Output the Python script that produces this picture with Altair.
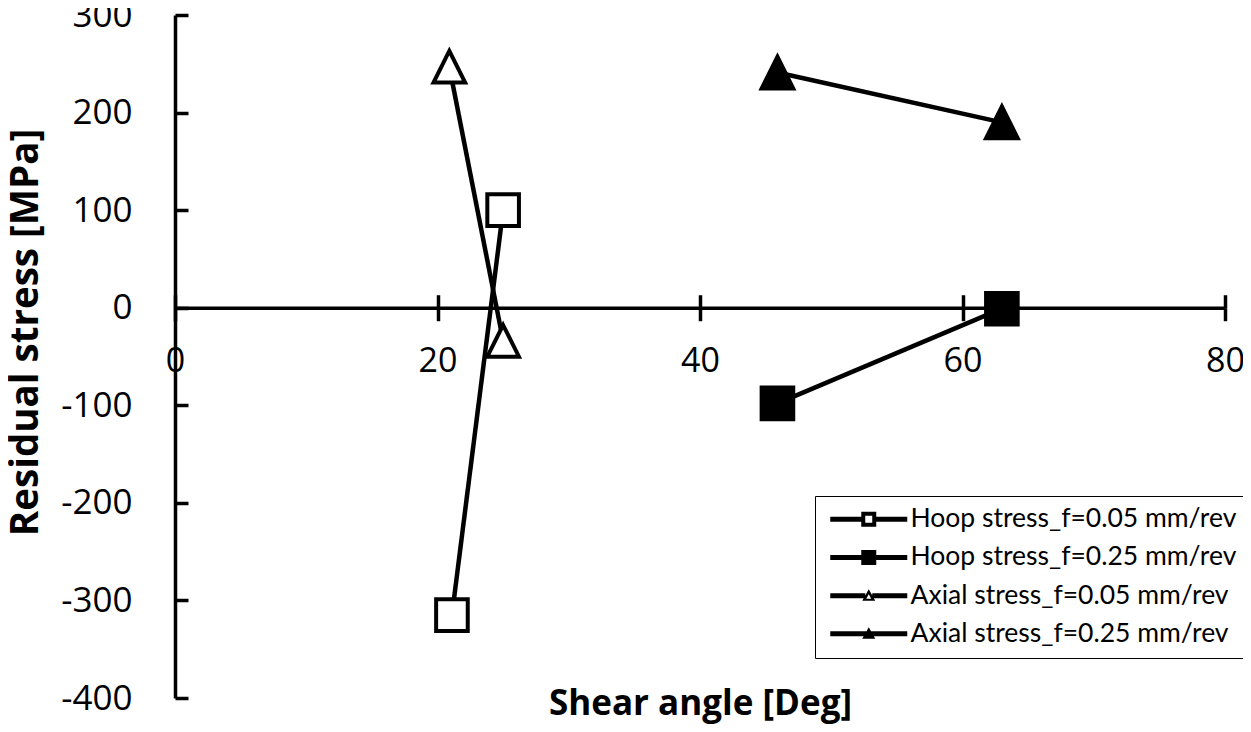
import altair as alt
import pandas as pd

# ---------------- data ----------------
series_names = [
    "Hoop stress_f=0.05 mm/rev",
    "Hoop stress_f=0.25 mm/rev",
    "Axial stress_f=0.05 mm/rev",
    "Axial stress_f=0.25 mm/rev",
]
hoop_005_x = [21.1, 25.0]
hoop_005_y = [-315, 100]
hoop_025_x = [45.9, 63.0]
hoop_025_y = [-98, -1]
axial_005_x = [20.9, 25.0]
axial_005_y = [247, -34]
axial_025_x = [45.9, 63.0]
axial_025_y = [241, 190]

x_ticks = [0, 20, 40, 60, 80]
y_ticks = [-400, -300, -200, -100, 0, 100, 200, 300]

rows = []
for name, xs, ys in zip(
    series_names,
    [hoop_005_x, hoop_025_x, axial_005_x, axial_025_x],
    [hoop_005_y, hoop_025_y, axial_005_y, axial_025_y],
):
    for xv, yv in zip(xs, ys):
        rows.append({"series": name, "angle": xv, "stress": yv})
df = pd.DataFrame(rows)

# ---------------- layout ----------------
W, H = 1050, 683
LABEL_FONT = "Open Sans"
TITLE_FONT = "Open Sans"
LEGEND_FONT = "Lato"
zero_from_bottom = H * 400 / 700
zero_from_top = H * 300 / 700

x_scale = alt.Scale(domain=[0, 80], nice=False, zero=False)
y_scale = alt.Scale(domain=[-400, 300], nice=False, zero=False)

main_x_axis = alt.Axis(
    orient="bottom", offset=-zero_from_bottom, values=x_ticks,
    labelExpr="datum.value + ''", labelFont=LABEL_FONT, labelFontSize=34,
    labelColor="black", labelPadding=24, labelFlush=False, labelOverlap=False,
    tickSize=13, tickWidth=3.5, tickColor="black",
    domainColor="black", domainWidth=3.5, grid=False,
    title="Shear angle [Deg]", titleFont=TITLE_FONT, titleFontSize=35,
    titleFontWeight="bold", titleColor="black", titleBaseline="alphabetic",
    titleY=407,
)
main_y_axis = alt.Axis(
    orient="left", values=y_ticks, labelExpr="datum.value + ''",
    labelFont=LABEL_FONT, labelFontSize=35, labelColor="black", labelPadding=43,
    labelFlush=False, labelOverlap=False,
    ticks=False, tickSize=0, domainColor="black", domainWidth=3.5, grid=False,
    title="Residual stress [MPa]", titleFont=TITLE_FONT, titleFontSize=38.5,
    titleFontWeight="bold", titleColor="black", titleBaseline="alphabetic",
    titleAngle=270, titleX=-138, titleY=317, titleAlign="center",
)
tick_x_axis = alt.Axis(
    orient="top", offset=-zero_from_top, values=x_ticks, labels=False,
    domain=False, tickSize=13, tickWidth=3.5, tickColor="black",
    grid=False, title=None,
)
tick_y_axis = alt.Axis(
    orient="right", offset=-W, values=y_ticks, labels=False,
    domain=False, tickSize=13, tickWidth=3.5, tickColor="black",
    grid=False, title=None,
)

base = alt.Chart(df)

lines = base.mark_line(color="black", strokeWidth=4.5).encode(
    x=alt.X("angle:Q", scale=x_scale, axis=main_x_axis),
    y=alt.Y("stress:Q", scale=y_scale, axis=main_y_axis),
    detail="series:N",
)

marker_shapes = ["square", "square", "M0,-1L1,1L-1,1Z", "M0,-1L1,1L-1,1Z"]
marker_fills = ["white", "black", "white", "black"]

points = base.mark_point(
    filled=False, stroke="black", strokeWidth=4, size=1000, opacity=1
).encode(
    x=alt.X("angle:Q", scale=x_scale, axis=None),
    y=alt.Y("stress:Q", scale=y_scale, axis=None),
    shape=alt.Shape("series:N", scale=alt.Scale(domain=series_names, range=marker_shapes), legend=None),
    fill=alt.Fill("series:N", scale=alt.Scale(domain=series_names, range=marker_fills), legend=None),
)

# ---------------- legend symbols: line + marker, built as filled paths ----------------
SYM = 26.0           # legend symbol box (px); path units are scaled by SYM/2
R = SYM / 2


def poly(points_px):
    return "M" + "L".join(f"{x / R:.3f},{y / R:.3f}" for x, y in points_px) + "Z"


def rect(x0, y0, x1, y1, ccw=False):
    pts = [(x0, y0), (x1, y0), (x1, y1), (x0, y1)]
    if ccw:
        pts = pts[::-1]
    return poly(pts)


LX0, LX1, CX, HT = -8.0, 69.0, 30.5, 2.5   # line start/end, marker centre, half line width
full_line = rect(LX0, -HT, LX1, HT)

sym_open_sq = (rect(LX0, -HT, CX - 7.5, HT) + rect(CX + 7.5, -HT, LX1, HT)
               + rect(CX - 7.5, -7.5, CX + 7.5, 7.5) + rect(CX - 3.5, -3.5, CX + 3.5, 3.5, ccw=True))
sym_fill_sq = full_line + rect(CX - 7.5, -7.5, CX + 7.5, 7.5)
tri_outer = poly([(CX, -6.5), (CX + 6.5, 5.0), (CX - 6.5, 5.0)])
tri_inner = poly([(CX, -1.5), (CX - 2.5, 3.0), (CX + 2.5, 3.0)])
sym_open_tri = (rect(LX0, -HT, CX - 3.5, HT) + rect(CX + 3.5, -HT, LX1, HT) + tri_outer + tri_inner)
sym_fill_tri = full_line + tri_outer
legend_shapes = [sym_open_sq, sym_fill_sq, sym_open_tri, sym_fill_tri]

legend_layer = base.mark_point(filled=True, color="black", opacity=0, size=10).encode(
    x=alt.X("angle:Q", scale=x_scale, axis=tick_x_axis),
    y=alt.Y("stress:Q", scale=y_scale, axis=tick_y_axis),
    shape=alt.Shape(
        "series:N",
        scale=alt.Scale(domain=series_names, range=legend_shapes),
        legend=alt.Legend(
            orient="none", legendX=640, legendY=481, title=None,
            labelFont=LEGEND_FONT, labelFontSize=26.5, labelColor="black", labelLimit=0,
            labelOffset=59, symbolSize=SYM * SYM, symbolOpacity=1,
            symbolFillColor="black", symbolStrokeColor="black", symbolStrokeWidth=0,
            padding=10, rowPadding=11.2, strokeColor="black", fillColor="white",
        ),
    ),
)

chart = (
    alt.layer(lines, points, legend_layer)
    .resolve_scale(shape="independent")
    .resolve_axis(x="independent", y="independent")
    .properties(
        width=W, height=H,
        padding={"left": 167, "top": 7, "right": 18, "bottom": 26},
        autosize=alt.AutoSizeParams(type="none"),
        background="white",
    )
    .configure_view(stroke=None)
)

chart.save("out.html", embed_options={"renderer": "svg", "actions": False})
